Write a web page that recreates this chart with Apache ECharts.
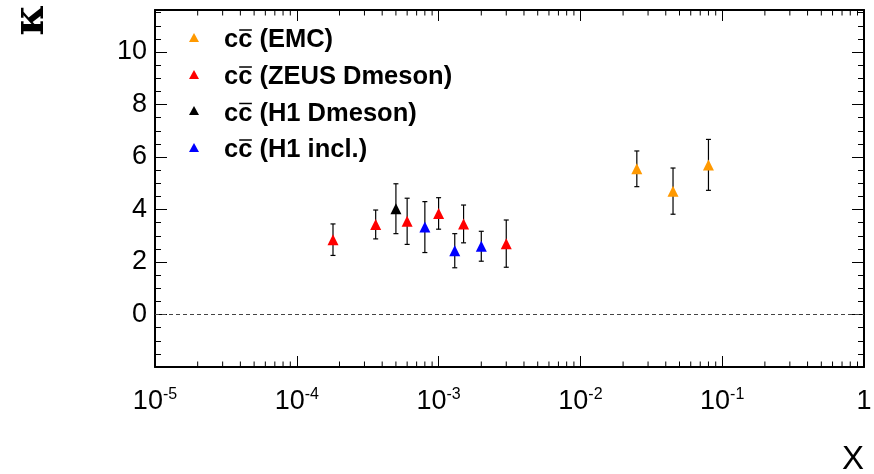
<!DOCTYPE html>
<html><head><meta charset="utf-8">
<script src="https://cdn.jsdelivr.net/npm/echarts@6.0.0/dist/echarts.min.js"></script>
<style>html,body{margin:0;padding:0;background:#fff}#c{width:874px;height:474px}</style>
</head><body><div id="c"></div>
<script>
// ---- data ----
const legendNames = ['(EMC)', '(ZEUS Dmeson)', '(H1 Dmeson)', '(H1 incl.)'];
const seriesColors = ['#ff9900', '#ff0000', '#000000', '#0000ff'];

const emcX = [0.025, 0.045, 0.080];
const emcY = [5.55, 4.70, 5.70];
const emcErr = [0.68, 0.88, 0.97];

const zeusX = [1.8e-4, 3.6e-4, 6.0e-4, 1.0e-3, 1.5e-3, 3.0e-3];
const zeusY = [2.85, 3.43, 3.55, 3.85, 3.45, 2.70];
const zeusErr = [0.60, 0.55, 0.88, 0.60, 0.72, 0.90];

const h1dX = [5.0e-4];
const h1dY = [4.03];
const h1dErr = [0.95];

const h1iX = [8.0e-4, 1.3e-3, 2.0e-3];
const h1iY = [3.33, 2.43, 2.60];
const h1iErr = [0.97, 0.65, 0.57];

const xMin = 1e-5, xMax = 1;
const yMin = -2, yMax = 11.6, yInterval = 2;

// ---- helpers ----
const LABEL_FONT = '"Liberation Sans", Arial, sans-serif';
const LEG_FONT = '"Liberation Sans", Arial, sans-serif';

function pts(xs, ys) { return xs.map((x, i) => [x, ys[i]]); }
function errData(xs, ys, es) { return xs.map((x, i) => [x, ys[i] - es[i], ys[i] + es[i]]); }

function errSeries(xs, ys, es) {
  return {
    type: 'custom', xAxisIndex: 0, yAxisIndex: 0, silent: true, z: 3,
    data: errData(xs, ys, es),
    encode: { x: 0, y: [1, 2] },
    renderItem(params, api) {
      const lo = api.coord([api.value(0), api.value(1)]);
      const hi = api.coord([api.value(0), api.value(2)]);
      const w = 2.5;
      const st = { stroke: '#000', lineWidth: 1.2 };
      return { type: 'group', children: [
        { type: 'line', shape: { x1: lo[0], y1: lo[1], x2: hi[0], y2: hi[1] }, style: st },
        { type: 'line', shape: { x1: lo[0] - w, y1: lo[1], x2: lo[0] + w, y2: lo[1] }, style: st },
        { type: 'line', shape: { x1: hi[0] - w, y1: hi[1], x2: hi[0] + w, y2: hi[1] }, style: st }
      ]};
    }
  };
}
function markerSeries(xs, ys, color, extra) {
  return Object.assign({
    type: 'scatter', xAxisIndex: 0, yAxisIndex: 0, z: 5,
    symbol: 'triangle', symbolSize: 11,
    itemStyle: { color: color, opacity: 1 },
    data: pts(xs, ys)
  }, extra || {});
}

// log minor ticks (2..9 per decade)
const minorTicks = [];
for (let d = -5; d < 0; d++) for (let m = 2; m <= 9; m++) minorTicks.push([m * Math.pow(10, d), 0]);

const minorSeries = {
  type: 'custom', xAxisIndex: 0, yAxisIndex: 0, silent: true, z: 2,
  data: minorTicks, encode: { x: 0, y: 1 },
  renderItem(params, api) {
    const cs = params.coordSys;
    const x = api.coord([api.value(0), 0])[0];
    const L = 5.5;
    const st = { stroke: '#000', lineWidth: 1 };
    return { type: 'group', children: [
      { type: 'line', shape: { x1: x, y1: cs.y + cs.height, x2: x, y2: cs.y + cs.height - L }, style: st },
      { type: 'line', shape: { x1: x, y1: cs.y, x2: x, y2: cs.y + L }, style: st }
    ]};
  }
};

const chart = echarts.init(document.getElementById('c'), null, { renderer: 'canvas' });

// legend built with measured text
const ctx = document.createElement('canvas').getContext('2d');
const legFontSize = 25.5;
const legFont = 'bold ' + legFontSize + 'px ' + LEG_FONT;
ctx.font = legFont;
const cW = ctx.measureText('c').width;
const legX = 224, legMarkX = 194;
const legMid = [40, 77, 113.5, 150];
const legMarkY = [38, 75, 111, 148];
const legendGraphics = [];
legendNames.forEach((nm, i) => {
  const mx = legMarkX, my = legMarkY[i];
  legendGraphics.push({ type: 'polygon', shape: { points: [[mx, my - 5], [mx - 5, my + 4], [mx + 5, my + 4]] }, style: { fill: seriesColors[i] } });
  const tstyle = { fill: '#000', font: legFont, verticalAlign: 'middle', align: 'left' };
  legendGraphics.push({ type: 'text', x: legX, y: legMid[i], style: Object.assign({ text: 'c' }, tstyle) });
  legendGraphics.push({ type: 'text', x: legX + cW, y: legMid[i], style: Object.assign({ text: 'c' }, tstyle) });
  legendGraphics.push({ type: 'line', shape: { x1: legX + cW + 1, y1: legMid[i] - 10, x2: legX + 2 * cW - 0.5, y2: legMid[i] - 10 }, style: { stroke: '#000', lineWidth: 1.5 } });
  legendGraphics.push({ type: 'text', x: legX + 2 * cW, y: legMid[i], style: Object.assign({ text: ' ' + nm }, tstyle) });
});

const xLabelRich = {
  b: { fontFamily: LABEL_FONT, fontSize: 27, lineHeight: 30, color: '#000' },
  s: { fontFamily: LABEL_FONT, fontSize: 16, lineHeight: 16, verticalAlign: 'top', color: '#000' }
};

const option = {
  animation: false,
  backgroundColor: '#fff',
  grid: { left: 155, right: 10, top: 10, bottom: 107, containLabel: false, outerBoundsMode: 'none' },
  xAxis: [
    {
      type: 'log', logBase: 10, min: xMin, max: xMax, position: 'bottom',
      axisLine: { show: true, onZero: false, lineStyle: { color: '#000', width: 2 } },
      axisTick: { show: true, inside: true, length: 11, lineStyle: { color: '#000', width: 1 } },
      splitLine: { show: false },
      axisLabel: {
        show: true, margin: 20, showMinLabel: true, showMaxLabel: true,
        formatter: function (v) {
          const e = Math.round(Math.log10(v));
          if (e === 0) return '{b|1}';
          return '{b|10}{s|' + e + '}';
        },
        rich: xLabelRich
      }
    },
    {
      type: 'log', logBase: 10, min: xMin, max: xMax, position: 'top',
      axisLine: { show: true, onZero: false, lineStyle: { color: '#000', width: 2 } },
      axisTick: { show: true, inside: true, length: 11, lineStyle: { color: '#000', width: 1 } },
      splitLine: { show: false }, axisLabel: { show: false }
    }
  ],
  yAxis: [
    {
      type: 'value', min: yMin, max: yMax, interval: yInterval, position: 'left',
      axisLine: { show: true, onZero: false, lineStyle: { color: '#000', width: 2 } },
      axisTick: { show: true, inside: true, length: 12, lineStyle: { color: '#000', width: 1 } },
      minorTick: { show: true, splitNumber: 4, length: 6, lineStyle: { color: '#000', width: 1 } },
      splitLine: { show: false },
      axisLabel: { show: true, margin: 8, showMinLabel: false, showMaxLabel: false, fontFamily: LABEL_FONT, fontSize: 27, color: '#000' }
    },
    {
      type: 'value', min: yMin, max: yMax, interval: yInterval, position: 'right',
      axisLine: { show: true, onZero: false, lineStyle: { color: '#000', width: 2 } },
      axisTick: { show: true, inside: true, length: 12, lineStyle: { color: '#000', width: 1 } },
      minorTick: { show: true, splitNumber: 4, length: 6, lineStyle: { color: '#000', width: 1 } },
      splitLine: { show: false }, axisLabel: { show: false }
    }
  ],
  graphic: [
    { type: 'text', x: 32, y: 20, rotation: Math.PI / 2,
      style: { text: 'κ', font: 'bold 42px "DejaVu Serif", serif', fill: '#000', align: 'center', verticalAlign: 'middle' } },
    { type: 'text', x: 853, y: 460,
      style: { text: 'X', font: '33px "Liberation Sans", Arial, sans-serif', fill: '#000', align: 'center', verticalAlign: 'middle' } }
  ].concat(legendGraphics),
  series: [
    minorSeries,
    markerSeries([], [], '#000', {
      markLine: {
        silent: true, symbol: 'none', label: { show: false },
        lineStyle: { color: '#444', width: 1, type: [4, 3] },
        data: [{ yAxis: 0 }]
      }
    }),
    errSeries(emcX, emcY, emcErr),
    errSeries(zeusX, zeusY, zeusErr),
    errSeries(h1dX, h1dY, h1dErr),
    errSeries(h1iX, h1iY, h1iErr),
    markerSeries(emcX, emcY, seriesColors[0]),
    markerSeries(zeusX, zeusY, seriesColors[1]),
    markerSeries(h1dX, h1dY, seriesColors[2]),
    markerSeries(h1iX, h1iY, seriesColors[3])
  ]
};
chart.setOption(option);
</script>
</body></html>
